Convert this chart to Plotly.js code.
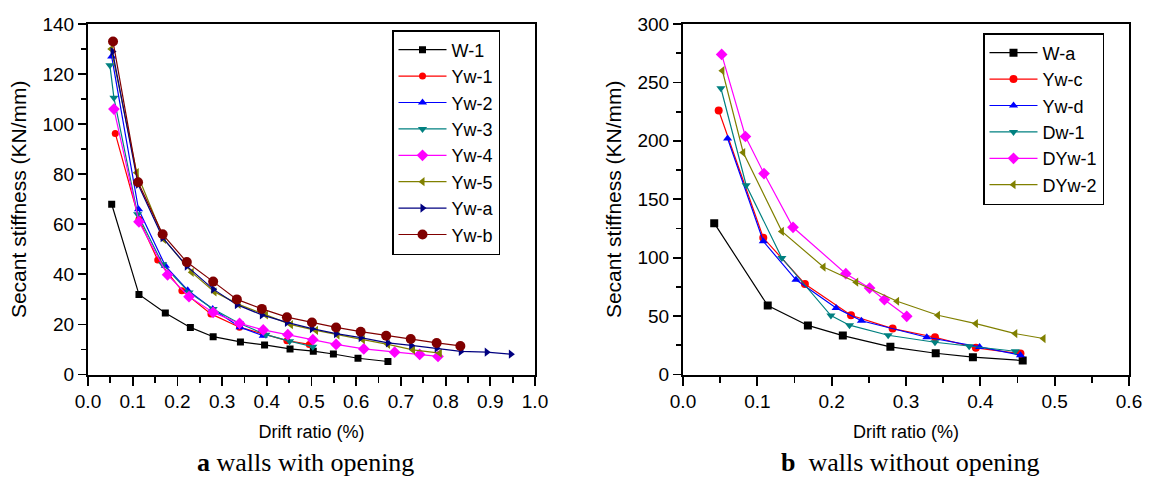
<!DOCTYPE html>
<html>
<head>
<meta charset="utf-8">
<script src="https://cdn.plot.ly/plotly-3.0.1.min.js"></script>
<style>html,body{margin:0;padding:0;background:#fff;}#chart{width:1150px;height:480px;}</style>
</head>
<body>
<div id="chart"></div>
<script>
// ---- Panel a: walls with opening ----
const namesA = ["W-1","Yw-1","Yw-2","Yw-3","Yw-4","Yw-5","Yw-a","Yw-b"];
const W1_x  = [0.053,0.114,0.173,0.229,0.280,0.341,0.395,0.452,0.504,0.549,0.604,0.671];
const W1_y  = [68,32,24.6,18.8,15.1,13.0,11.8,10.2,9.3,8.2,6.5,5.2];
const Yw1_x = [0.061,0.114,0.156,0.210,0.275,0.339,0.392,0.445,0.495];
const Yw1_y = [96.3,62,45.7,33.5,24.2,18.9,16.2,13.5,12];
const Yw2_x = [0.053,0.113,0.173,0.223,0.279,0.340,0.392];
const Yw2_y = [127,66,43.4,33.7,26.2,18.9,15.5];
const Yw3_x = [0.049,0.058,0.111,0.167,0.226,0.280,0.339,0.398,0.451,0.503];
const Yw3_y = [123.5,110.5,64,44,32.8,26.2,20.4,15.9,13.3,11.1];
const Yw4_x = [0.058,0.114,0.178,0.226,0.280,0.339,0.392,0.447,0.503,0.555,0.617,0.686,0.742,0.783];
const Yw4_y = [106,61,39.8,31.1,24.8,20.4,17.8,15.9,13.9,12,10.2,8.9,8,7.2];
const Yw5_x = [0.052,0.109,0.170,0.232,0.283,0.337,0.398,0.454,0.510,0.558,0.615,0.671,0.727,0.787];
const Yw5_y = [130,80.6,54,40.8,33,28,23.8,19.9,17.6,15.8,13.9,12,9.8,8.5];
const Ywa_x = [0.055,0.112,0.167,0.221,0.280,0.333,0.389,0.445,0.501,0.555,0.610,0.671,0.723,0.780,0.834,0.892,0.946];
const Ywa_y = [129,76,54.7,43.3,34.1,27.9,23.8,20.8,18.3,16.3,14.7,12.6,11.6,10.5,9.2,8.9,8.1];
const Ywb_x = [0.056,0.112,0.167,0.221,0.280,0.333,0.389,0.445,0.501,0.555,0.610,0.667,0.722,0.780,0.833];
const Ywb_y = [133,76.8,56,44.9,37.1,30,26.2,22.9,20.8,18.8,17.1,15.5,14.2,12.6,11.4];

// ---- Panel b: walls without opening ----
const namesB = ["W-a","Yw-c","Yw-d","Dw-1","DYw-1","DYw-2"];
const Wa_x   = [0.042,0.114,0.168,0.215,0.279,0.340,0.390,0.457];
const Wa_y   = [129.5,59,42,33.3,23.7,18.2,14.8,12];
const Ywc_x  = [0.048,0.108,0.164,0.226,0.282,0.339,0.394,0.454];
const Ywc_y  = [226,117,77.5,50.7,39.3,31.9,22.8,17.9];
const Ywd_x  = [0.060,0.108,0.152,0.206,0.240,0.328,0.399,0.454];
const Ywd_y  = [202,114,81,57,46,31.9,23.6,16.5];
const Dw1_x  = [0.051,0.085,0.133,0.199,0.224,0.276,0.339,0.385,0.447];
const Dw1_y  = [245,162,99.7,50.4,42.2,33.6,27.6,24.2,19.9];
const DYw1_x = [0.052,0.084,0.109,0.148,0.219,0.251,0.271,0.301];
const DYw1_y = [274,203.7,172,126,86.3,74,64,49.8];
const DYw2_x = [0.053,0.081,0.133,0.189,0.233,0.288,0.343,0.394,0.447,0.485];
const DYw2_y = [260,190,122.5,92,79,62.7,50.7,43.6,35,30.8];

const xTicksA = [0,0.1,0.2,0.3,0.4,0.5,0.6,0.7,0.8,0.9,1.0];
const yTicksA = [0,20,40,60,80,100,120,140];
const xTicksB = [0,0.1,0.2,0.3,0.4,0.5,0.6];
const yTicksB = [0,50,100,150,200,250,300];

const captionA = "<b>a</b> walls with opening";
const captionB = "<b>b</b>\u2002walls without opening";
const xTitle = "Drift ratio (%)";
const yTitle = "Secant stiffness (KN/mm)";

const seriesA = [[W1_x,W1_y],[Yw1_x,Yw1_y],[Yw2_x,Yw2_y],[Yw3_x,Yw3_y],[Yw4_x,Yw4_y],[Yw5_x,Yw5_y],[Ywa_x,Ywa_y],[Ywb_x,Ywb_y]];
const colorsA = ["#000000","#ff0000","#0000ff","#008080","#ff00ff","#808000","#000080","#800000"];
const symbolsA = ["square","circle","triangle-up","triangle-down","diamond","triangle-left","triangle-right","circle"];
const sizesA = [7,7,8,8,9,8,8,10];

const seriesB = [[Wa_x,Wa_y],[Ywc_x,Ywc_y],[Ywd_x,Ywd_y],[Dw1_x,Dw1_y],[DYw1_x,DYw1_y],[DYw2_x,DYw2_y]];
const colorsB = ["#000000","#ff0000","#0000ff","#008080","#ff00ff","#808000"];
const symbolsB = ["square","circle","triangle-up","triangle-down","diamond","triangle-left"];
const sizesB = [8,8,8,8,9,8];

const traces = [];
seriesA.forEach((s,i)=>traces.push({
  x:s[0], y:s[1], name:namesA[i], type:"scatter", mode:"lines+markers",
  xaxis:"x", yaxis:"y", legend:"legend",
  line:{color:colorsA[i], width:1.2},
  marker:{color:colorsA[i], symbol:symbolsA[i], size:sizesA[i]}
}));
seriesB.forEach((s,i)=>traces.push({
  x:s[0], y:s[1], name:namesB[i], type:"scatter", mode:"lines+markers",
  xaxis:"x2", yaxis:"y2", legend:"legend2",
  line:{color:colorsB[i], width:1.2},
  marker:{color:colorsB[i], symbol:symbolsB[i], size:sizesB[i]}
}));

const FONT = "Liberation Sans, Arial, sans-serif";
const tickFont = {family:FONT, size:19, color:"#000"};
function xAxis(domain, range, tickvals, anchor){
  return {domain:domain, range:range, anchor:anchor, tickvals:tickvals,
    ticktext:tickvals.map(v=>v.toFixed(1)),
    ticks:"outside", ticklen:9, tickwidth:1.8, tickcolor:"#000",
    minor:{dtick:0.05, ticks:"outside", ticklen:6, tickwidth:1.8, tickcolor:"#000", showgrid:false},
    showline:true, linewidth:2, linecolor:"#000", mirror:true,
    showgrid:false, zeroline:false, tickfont:tickFont,
    title:{text:xTitle, font:{family:FONT, size:18, color:"#000"}, standoff:14},
    fixedrange:true};
}
function yAxis(domain, range, tickvals, minorStep, anchor){
  return {domain:domain, range:range, anchor:anchor, tickvals:tickvals,
    ticks:"outside", ticklen:8, tickwidth:1.8, tickcolor:"#000",
    minor:{dtick:minorStep, ticks:"outside", ticklen:5, tickwidth:1.8, tickcolor:"#000", showgrid:false},
    showline:true, linewidth:2, linecolor:"#000", mirror:true,
    showgrid:false, zeroline:false, tickfont:tickFont,
    title:{text:yTitle, font:{family:FONT, size:21, color:"#000"}, standoff:10},
    fixedrange:true};
}
const yDom = [1-374.5/480, 1-24/480];
const legendFont = {family:FONT, size:18, color:"#000"};
const layout = {
  width:1150, height:480,
  margin:{l:0, r:0, t:0, b:0},
  paper_bgcolor:"#fff", plot_bgcolor:"#fff",
  font:{family:FONT, color:"#000"},
  xaxis: xAxis([88/1150, 535/1150], [0,1], xTicksA, "y"),
  yaxis: yAxis(yDom, [0,140], yTicksA, 10, "x"),
  xaxis2: xAxis([683/1150, 1129/1150], [0,0.6], xTicksB, "y2"),
  yaxis2: yAxis(yDom, [0,300], yTicksB, 25, "x2"),
  legend:{x:392/1150, y:1-30/480, xanchor:"left", yanchor:"top",
    bordercolor:"#000", borderwidth:1.5, bgcolor:"#fff", itemwidth:48,
    font:legendFont, tracegroupgap:0},
  legend2:{x:983/1150, y:1-33/480, xanchor:"left", yanchor:"top",
    bordercolor:"#000", borderwidth:1.5, bgcolor:"#fff", itemwidth:48,
    font:legendFont, tracegroupgap:0},
  annotations:[
    {text:captionA, xref:"paper", yref:"paper", x:305/1150, y:1-462/480, xanchor:"center", yanchor:"middle",
     showarrow:false, font:{family:"Liberation Serif, Times New Roman, serif", size:26, color:"#000"}},
    {text:captionB, xref:"paper", yref:"paper", x:910/1150, y:1-462/480, xanchor:"center", yanchor:"middle",
     showarrow:false, font:{family:"Liberation Serif, Times New Roman, serif", size:26, color:"#000"}}
  ],
  showlegend:true
};
Plotly.newPlot("chart", traces, layout, {displayModeBar:false, staticPlot:true});
</script>
</body>
</html>
